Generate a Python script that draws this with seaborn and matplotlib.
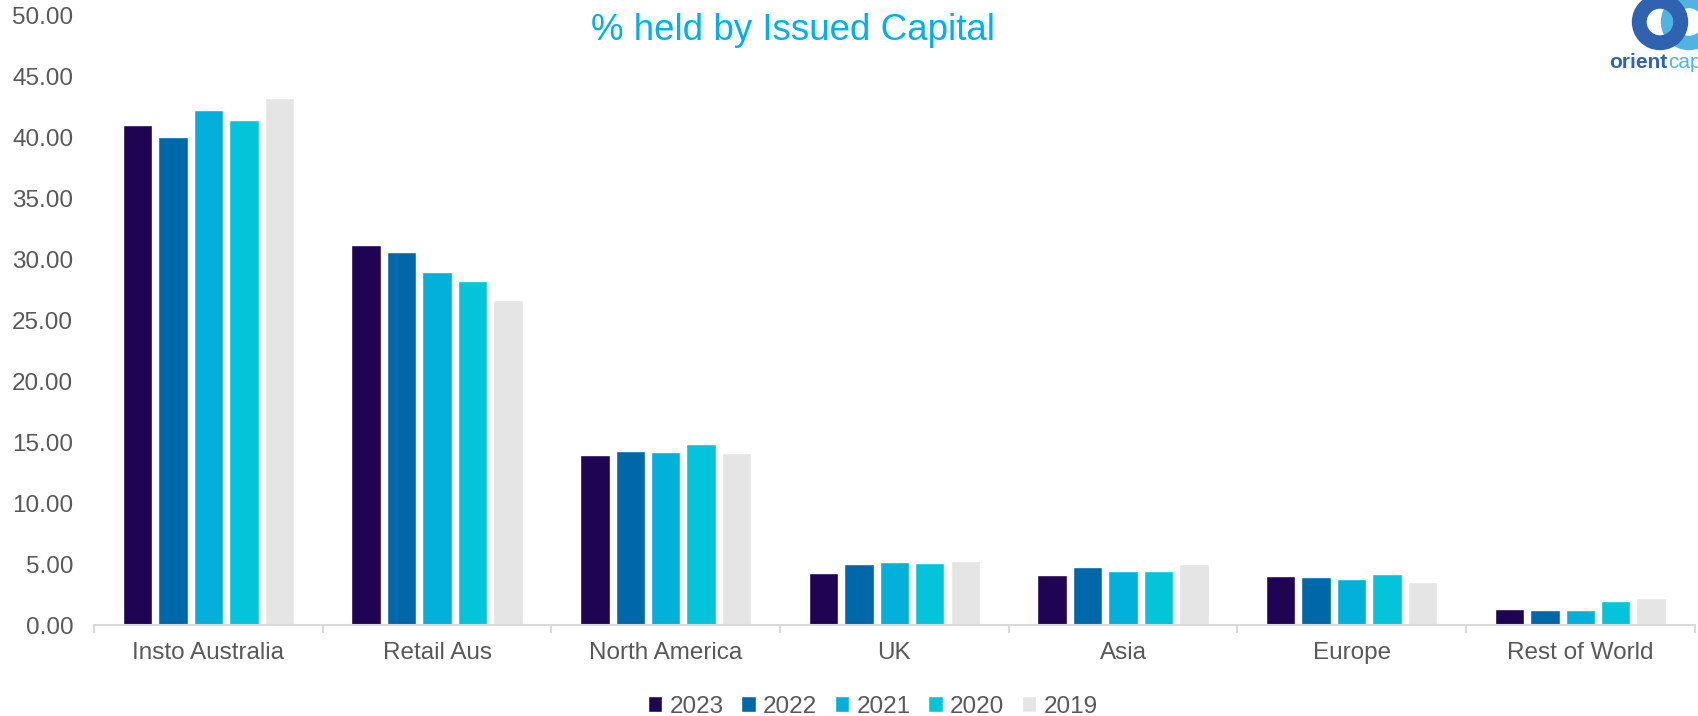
import numpy as np
import pandas as pd
import seaborn as sns
import matplotlib.pyplot as plt
from matplotlib.patches import Wedge
from matplotlib.ticker import FormatStrFormatter


# data
regions = ["Insto Australia", "Retail Aus", "North America", "UK",
           "Asia", "Europe", "Rest of World"]
years = ["2023", "2022", "2021", "2020", "2019"]

held_2023 = [41.0, 31.2, 13.98, 4.3, 4.1, 4.05, 1.35]
held_2022 = [40.05, 30.6, 14.3, 5.0, 4.76, 3.97, 1.27]
held_2021 = [42.25, 29.0, 14.2, 5.17, 4.4, 3.75, 1.27]
held_2020 = [41.45, 28.2, 14.88, 5.06, 4.43, 4.18, 1.97]
held_2019 = [43.25, 26.7, 14.08, 5.25, 5.0, 3.57, 2.22]

colors = ["#200454", "#0068a8", "#02b0da", "#04c4d9", "#e5e5e5"]

grey = "#595959"

series = [held_2023, held_2022, held_2021, held_2020, held_2019]
df = pd.DataFrame({
    "region": np.tile(regions, len(years)),
    "year": np.repeat(years, len(regions)),
    "value": np.concatenate(series),
})

sns.set_theme(style="white")
plt.rcParams["font.family"] = ["Liberation Sans", "DejaVu Sans"]

fig = plt.figure(figsize=(16.98, 7.16), dpi=100)
ax = fig.add_axes([0.0554, 0.127, 0.9426, 0.851])

sns.barplot(data=df, x="region", y="value", hue="year", order=regions,
            hue_order=years, palette=colors, saturation=1, width=0.775,
            gap=0.17, ax=ax)

ax.set_xlim(-0.5, len(regions) - 0.5)
ax.set_ylim(0, 50)
ax.set_yticks(np.arange(0, 50.1, 5))
ax.yaxis.set_major_formatter(FormatStrFormatter("%.2f"))
ax.set_xlabel("")
ax.set_ylabel("")

for side in ["top", "right", "left"]:
    ax.spines[side].set_visible(False)
ax.spines["bottom"].set_color("#d9d9d9")
ax.spines["bottom"].set_linewidth(1.5)

ax.set_xticks(np.arange(-0.5, len(regions)), minor=True)
ax.tick_params(axis="x", which="minor", length=6, width=1.5, color="#d9d9d9",
               direction="out", bottom=True)
ax.tick_params(axis="x", which="major", length=0, pad=12, labelsize=17.5,
               labelcolor=grey)
ax.tick_params(axis="y", length=0, pad=15, labelsize=17.5, labelcolor=grey)

ax.legend(loc="lower center", bbox_to_anchor=(0.514, -0.016),
          bbox_transform=fig.transFigure, ncol=5, frameon=False,
          borderaxespad=0, fontsize=17.5, labelcolor=grey,
          handlelength=0.6, handleheight=0.6, handletextpad=0.3,
          columnspacing=0.72)

fig.text(0.467, 0.958, "% held by Issued Capital", ha="center", va="center",
         fontsize=26.5, color="#00b0ea")

# logo in the top-right corner
lax = fig.add_axes([0, 0, 1, 1], zorder=5)
lax.set_xlim(0, 1698)
lax.set_ylim(716, 0)
lax.axis("off")
lax.add_patch(Wedge((1689, 22), 27.5, 0, 360, width=13, color="#4fb3e3"))
lax.add_patch(Wedge((1660, 22), 27.5, 0, 360, width=13.5, color="#2f63b0"))
lax.text(1609, 63, "orient", ha="left", va="center", fontsize=15,
         fontweight="bold", color="#2f63b0")
lax.text(1668, 63, "cap", ha="left", va="center", fontsize=15,
         color="#4fb3e3")

fig.savefig("out.png", dpi=100)
